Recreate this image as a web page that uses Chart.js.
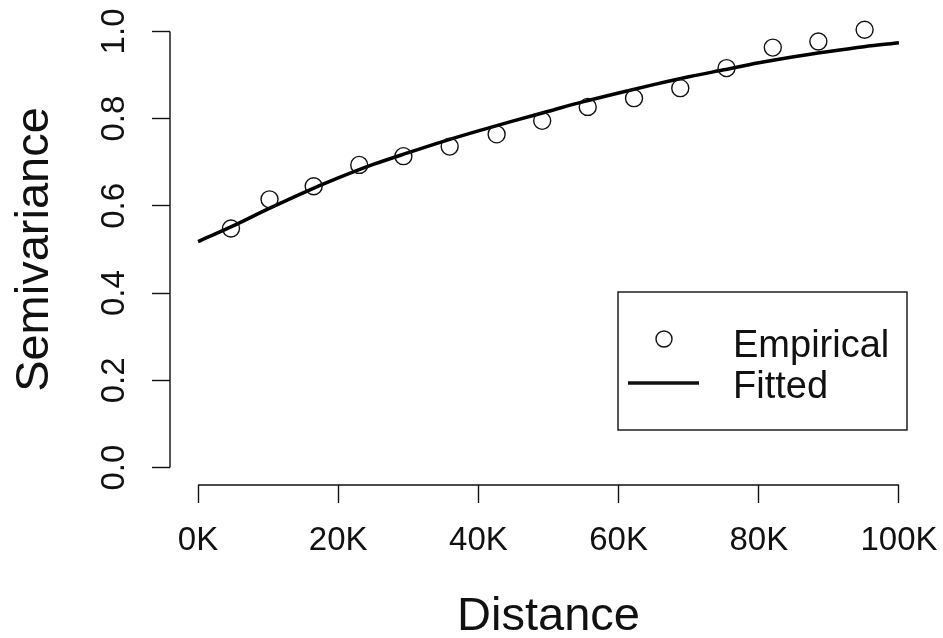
<!DOCTYPE html>
<html>
<head>
<meta charset="utf-8">
<title>Semivariance</title>
<script src="https://cdn.jsdelivr.net/npm/chart.js@4/dist/chart.umd.min.js"></script>
<style>
    html, body {
        margin: 0;
        padding: 0;
        background: #ffffff;
    }
    #wrap {
        width: 943px;
        height: 638px;
    }
</style>
</head>
<body>
<div id="wrap"><canvas id="variogram" width="943" height="638"></canvas></div>
<script>
    // empirical semivariogram (distance in metres)
    var empDistance = [4700, 10200, 16500, 23000, 29300, 35900, 42600, 49100, 55600, 62200, 68800, 75400, 82000, 88500, 95100];
    var empSemivariance = [0.548, 0.615, 0.645, 0.694, 0.714, 0.736, 0.764, 0.795, 0.827, 0.847, 0.870, 0.916, 0.963, 0.977, 1.004];

    // fitted model
    var fitDistance = [0, 5000, 10000, 15000, 20000, 25000, 30000, 35000, 40000, 45000, 50000, 55000, 60000, 65000, 70000, 75000, 80000, 85000, 90000, 95000, 100000];
    var fitSemivariance = [0.518, 0.554, 0.593, 0.630, 0.664, 0.695, 0.722, 0.748, 0.772, 0.795, 0.817, 0.839, 0.859, 0.878, 0.896, 0.912, 0.928, 0.942, 0.954, 0.965, 0.974];

    var xTicks = [0, 20000, 40000, 60000, 80000, 100000];
    var yTicks = [0, 0.2, 0.4, 0.6, 0.8, 1.0];

    var legendLabels = ["Empirical", "Fitted"];
    var xTitle = "Distance";
    var yTitle = "Semivariance";
</script>
<script>
(function() {
    "use strict";

    var FONT = "'Liberation Sans', Arial, Helvetica, sans-serif";
    var INK = "#111111";

    function toPoints(xs, ys) {
        var out = [];
        for (var i = 0; i < xs.length; i++) {
            out.push({ x: xs[i], y: ys[i] });
        }
        return out;
    }

    function setTicks(values) {
        return function(scale) {
            scale.ticks = values.map(function(v) {
                return { value: v };
            });
        };
    }

    // fixed axis box, no extra room for overhanging labels
    function fixSize(prop, size) {
        return function(scale) {
            scale[prop] = size;
            scale.paddingTop = 0;
            scale.paddingBottom = 0;
            scale.paddingLeft = 0;
            scale.paddingRight = 0;
        };
    }

    // R style axis: line only from first to last tick
    var axisLines = {
        id: "axisLines",
        afterDraw: function(chart) {
            var ctx = chart.ctx;
            var xs = chart.scales.x;
            var ys = chart.scales.y;
            var area = chart.chartArea;

            ctx.save();
            ctx.strokeStyle = INK;
            ctx.lineWidth = 1.4;
            ctx.beginPath();
            ctx.moveTo(xs.getPixelForValue(xTicks[0]), area.bottom);
            ctx.lineTo(xs.getPixelForValue(xTicks[xTicks.length - 1]), area.bottom);
            ctx.moveTo(area.left, ys.getPixelForValue(yTicks[0]));
            ctx.lineTo(area.left, ys.getPixelForValue(yTicks[yTicks.length - 1]));
            ctx.stroke();
            ctx.restore();
        }
    };

    var boxLegend = {
        id: "boxLegend",
        afterDraw: function(chart) {
            var ctx = chart.ctx;

            ctx.save();
            ctx.strokeStyle = INK;
            ctx.lineWidth = 1.4;
            ctx.strokeRect(618, 292, 289, 138);

            ctx.beginPath();
            ctx.arc(664, 339, 8, 0, Math.PI * 2);
            ctx.lineWidth = 1.4;
            ctx.stroke();

            ctx.beginPath();
            ctx.moveTo(628, 383);
            ctx.lineTo(699, 383);
            ctx.lineWidth = 3.5;
            ctx.stroke();

            ctx.fillStyle = INK;
            ctx.font = "38px " + FONT;
            ctx.textAlign = "left";
            ctx.textBaseline = "alphabetic";
            ctx.fillText(legendLabels[0], 733, 357);
            ctx.fillText(legendLabels[1], 733, 398);
            ctx.restore();
        }
    };

    function createChart() {
        var canvas = document.getElementById("variogram");

        new Chart(canvas.getContext("2d"), {
            type: "scatter",
            data: {
                datasets: [{
                        label: legendLabels[0],
                        data: toPoints(empDistance, empSemivariance),
                        showLine: false,
                        pointStyle: "circle",
                        pointRadius: 8.5,
                        pointBorderWidth: 1.4,
                        pointBorderColor: INK,
                        pointBackgroundColor: "rgba(0, 0, 0, 0)",
                        pointHoverRadius: 8.5
                    },
                    {
                        label: legendLabels[1],
                        data: toPoints(fitDistance, fitSemivariance),
                        showLine: true,
                        borderColor: "#000000",
                        borderWidth: 3.5,
                        pointRadius: 0,
                        pointHoverRadius: 0,
                        cubicInterpolationMode: "monotone",
                        fill: false
                    }
                ]
            },
            options: {
                responsive: false,
                animation: false,
                devicePixelRatio: 1,
                layout: {
                    padding: { left: 0, right: 16, top: 14, bottom: 0 }
                },
                plugins: {
                    legend: { display: false },
                    tooltip: { enabled: false }
                },
                scales: {
                    x: {
                        type: "linear",
                        min: -4000,
                        max: 104000,
                        afterBuildTicks: setTicks(xTicks),
                        afterFit: fixSize("height", 153),
                        border: { display: false },
                        grid: {
                            display: true,
                            drawOnChartArea: false,
                            drawTicks: true,
                            tickLength: 18,
                            tickWidth: 1.4,
                            tickColor: INK
                        },
                        ticks: {
                            autoSkip: false,
                            maxRotation: 0,
                            minRotation: 0,
                            padding: 18,
                            color: INK,
                            font: { family: FONT, size: 33 },
                            callback: function(value) {
                                return (value / 1000) + "K";
                            }
                        },
                        title: {
                            display: true,
                            text: xTitle,
                            color: INK,
                            font: { family: FONT, size: 47, lineHeight: 1 },
                            padding: { top: 0, bottom: -3 }
                        }
                    },
                    y: {
                        type: "linear",
                        min: -0.04,
                        max: 1.04,
                        afterBuildTicks: setTicks(yTicks),
                        afterFit: fixSize("width", 170),
                        border: { display: false },
                        grid: {
                            display: true,
                            drawOnChartArea: false,
                            drawTicks: true,
                            tickLength: 18,
                            tickWidth: 1.4,
                            tickColor: INK
                        },
                        ticks: {
                            autoSkip: false,
                            minRotation: 90,
                            maxRotation: 90,
                            crossAlign: "center",
                            padding: 14,
                            color: INK,
                            font: { family: FONT, size: 33 },
                            callback: function(value) {
                                return Number(value).toFixed(1);
                            }
                        },
                        title: {
                            display: true,
                            text: yTitle,
                            color: INK,
                            font: { family: FONT, size: 47, lineHeight: 1 },
                            padding: { top: 12, bottom: 0 }
                        }
                    }
                }
            },
            plugins: [axisLines, boxLegend]
        });
    }

    document.addEventListener("DOMContentLoaded", createChart);
})();
</script>
</body>
</html>
